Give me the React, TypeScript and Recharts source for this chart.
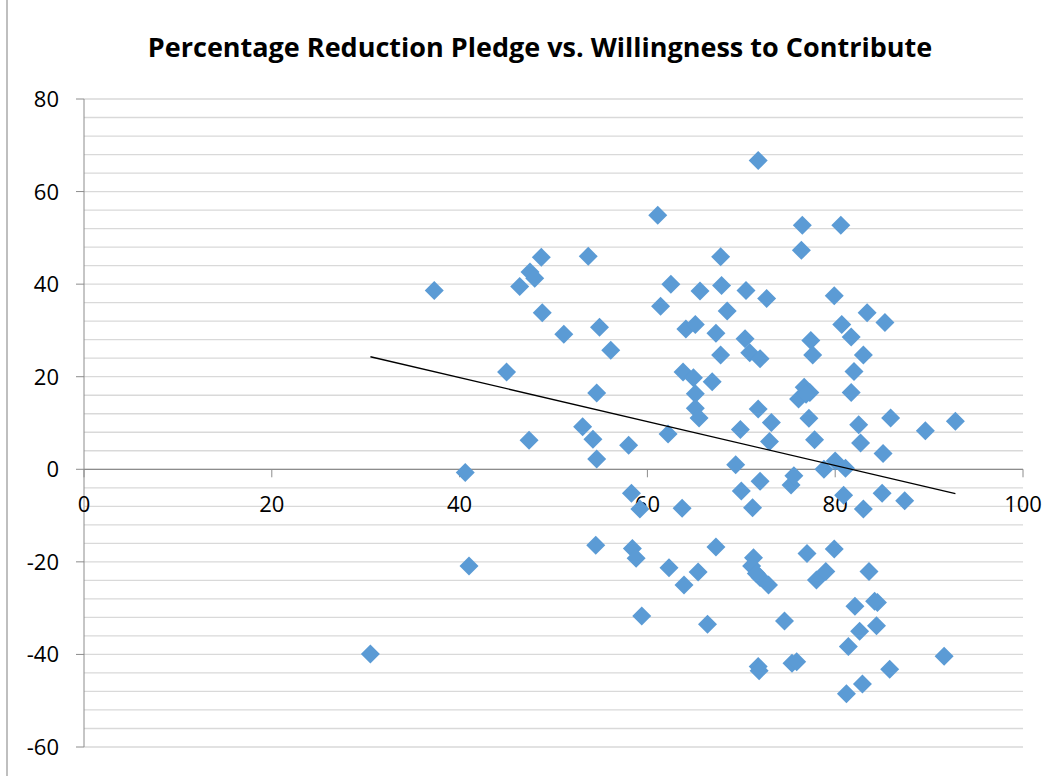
import { ScatterChart, Scatter, XAxis, YAxis, CartesianGrid, ReferenceLine, ReferenceDot } from 'recharts';

// willingness to contribute (x) vs. percentage reduction pledge (y)
const willingness = [
  30.5, 37.3, 40.6, 41.0, 45.0, 46.4, 47.5, 48.0, 48.7, 48.8, 47.4, 51.1, 53.7, 54.9, 56.1,
  54.6, 53.1, 54.2, 54.6, 58.0, 58.3, 59.2, 54.5, 58.4, 58.8, 59.4,
  61.1, 61.4, 62.5, 62.2, 62.3, 63.7, 63.9, 63.8, 64.1, 65.1, 64.9, 65.1, 65.1, 65.5,
  65.6, 65.4, 66.4, 66.9, 67.3, 67.3, 67.8, 67.9, 67.8, 68.5, 69.4, 69.9, 70.0, 70.5,
  70.4, 70.9, 71.2, 71.3, 71.1, 71.8, 71.8, 72.0, 72.0, 72.0, 72.9, 71.8, 71.9, 72.7,
  73.2, 73.0, 74.6, 75.3, 75.6, 75.4, 75.9, 76.1, 76.4, 76.5, 76.7, 77.3, 77.2, 77.4,
  77.6, 77.8, 77.0, 78.0, 79.0, 78.8, 79.9, 80.0, 79.9, 80.6, 80.7, 81.1, 80.9, 81.7,
  81.7, 82.0, 81.4, 81.2, 82.1, 82.5, 82.7, 82.6, 83.0, 83.0, 82.9, 83.4, 83.6, 84.4,
  84.5, 84.2, 85.0, 85.1, 85.3, 85.8, 85.9, 87.4, 89.6, 91.6, 92.8, 71.6, 76.9,
];
const pledgeReduction = [
  -39.9, 38.6, -0.7, -20.9, 21.0, 39.5, 42.6, 41.3, 45.8, 33.8, 6.3, 29.2, 46.0, 30.7, 25.7,
  16.5, 9.2, 6.5, 2.2, 5.2, -5.2, -8.6, -16.4, -17.1, -19.2, -31.7,
  54.9, 35.2, 40.0, 7.6, -21.3, -8.4, -25.0, 21.0, 30.3, 31.3, 19.8, 16.3, 13.2, 11.1,
  38.5, -22.2, -33.5, 18.9, 29.4, -16.8, 45.9, 39.7, 24.7, 34.2, 1.0, 8.6, -4.7, 38.6,
  28.2, 25.2, -8.3, -19.1, -20.9, 66.7, 13.0, 23.9, -2.6, -23.4, -25.0, -42.6, -43.5, 36.9,
  10.1, 6.0, -32.8, -3.4, -1.4, -41.9, -41.6, 15.2, 47.3, 52.7, 17.7, 16.6, 11.0, 27.8,
  24.7, 6.4, -18.2, -23.9, -22.1, 0.0, 37.5, 1.8, -17.2, 52.7, 31.3, 0.2, -5.6, 28.6,
  16.6, 21.1, -38.3, -48.5, -29.6, 9.6, 5.7, -35.0, 24.7, -8.6, -46.4, 33.8, -22.1, -33.8,
  -28.8, -28.5, -5.2, 3.4, 31.7, -43.2, 11.1, -6.8, 8.3, -40.4, 10.4, -22.5, 16.2,
];

const xTicks = [0, 20, 40, 60, 80, 100];
const yMajorTicks = [-60, -40, -20, 0, 20, 40, 60, 80];
const yGridTicks = [
  -60, -56, -52, -48, -44, -40, -36, -32, -28, -24, -20, -16, -12, -8, -4, 0,
  4, 8, 12, 16, 20, 24, 28, 32, 36, 40, 44, 48, 52, 56, 60, 64, 68, 72, 76, 80,
];

// linear trendline as shown on the chart
const trendSlope = -0.475;
const trendIntercept = 38.8;

const points = willingness.map((x, i) => ({ x, y: pledgeReduction[i] }));
const xMin = Math.min(...willingness);
const xMax = Math.max(...willingness);
const trendPoints = [
  { x: xMin, y: trendIntercept + trendSlope * xMin },
  { x: xMax, y: trendIntercept + trendSlope * xMax },
];

const FONT = '"Open Sans", "Liberation Sans", sans-serif';
const AXIS = '#8c8c8c';
const GRID = '#d9d9d9';
const TICK_SIZE = 8;
const TICK_MARGIN = 17;

function Diamond(props: any) {
  const { cx, cy } = props;
  const r = 9.5;
  return (
    <polygon
      points={`${cx},${cy - r} ${cx + r},${cy} ${cx},${cy + r} ${cx - r},${cy}`}
      fill="#5b9bd5"
    />
  );
}

function YTick(props: any) {
  const { x, y, payload } = props;
  if (!yMajorTicks.includes(payload.value)) return <g />;
  const x2 = x + TICK_MARGIN + TICK_SIZE;
  return (
    <g>
      <line x1={x + TICK_MARGIN} x2={x2} y1={y} y2={y} stroke={AXIS} />
      <text x={x} y={y + 8} textAnchor="end" fontFamily={FONT} fontSize={22} fill="#000">
        {payload.value}
      </text>
    </g>
  );
}

const xTickShape = (label: number) => (p: any) => (
  <g>
    <line x1={p.cx} x2={p.cx} y1={p.cy} y2={p.cy + TICK_SIZE} stroke={AXIS} />
    <text x={p.cx} y={p.cy + 43} textAnchor="middle" fontFamily={FONT} fontSize={22} fill="#000">
      {label}
    </text>
  </g>
);

const noMark = () => <g />;

export default function App() {
  return (
    <div style={{ position: 'absolute', left: 0, top: 0, width: 1064, height: 776, background: '#fff' }}>
      <div style={{ position: 'absolute', left: 6, top: 0, width: 2, height: 776, background: '#bfbfbf' }} />
      <div
        style={{
          position: 'absolute',
          left: 140,
          top: 33,
          width: 800,
          textAlign: 'center',
          fontFamily: FONT,
          fontWeight: 700,
          fontSize: 27,
          lineHeight: 1,
          color: '#000',
          whiteSpace: 'nowrap',
        }}
      >
        Percentage Reduction Pledge vs. Willingness to Contribute
      </div>
      <ScatterChart width={1064} height={776} margin={{ top: 99, right: 41, bottom: 29, left: 0 }}>
        <CartesianGrid horizontal vertical={false} stroke={GRID} strokeWidth={1.3} />
        <XAxis type="number" dataKey="x" domain={[0, 100]} ticks={xTicks} hide />
        <YAxis
          type="number"
          dataKey="y"
          domain={[-60, 80]}
          ticks={yGridTicks}
          interval={0}
          width={84}
          tickSize={TICK_SIZE}
          tickMargin={TICK_MARGIN}
          tickLine={false}
          axisLine={{ stroke: AXIS }}
          tick={<YTick />}
        />
        <ReferenceLine y={0} stroke={AXIS} strokeWidth={1.3} />
        {xTicks.map((t) => (
          <ReferenceDot key={t} x={t} y={0} r={0} shape={xTickShape(t)} />
        ))}
        <Scatter data={points} shape={Diamond} isAnimationActive={false} />
        <Scatter
          data={trendPoints}
          shape={noMark}
          line={{ stroke: '#000', strokeWidth: 1.3 }}
          lineType="joint"
          isAnimationActive={false}
        />
      </ScatterChart>
    </div>
  );
}
